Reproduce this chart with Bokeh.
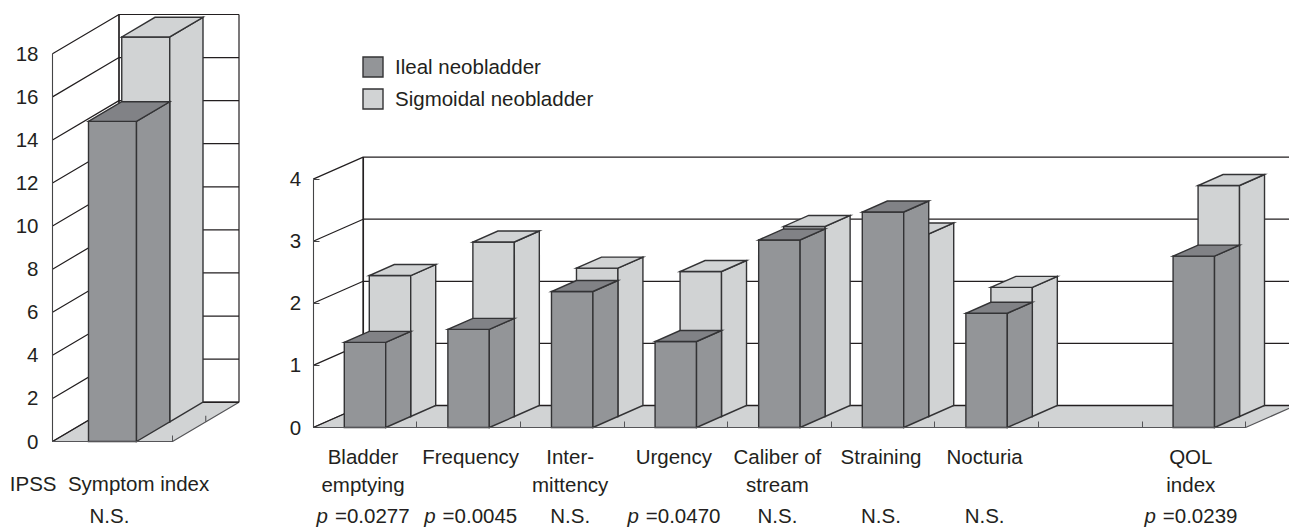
from bokeh.core.properties import value as _v
from bokeh.embed import file_html
from bokeh.layouts import row
from bokeh.models import ColumnDataSource, FixedTicker, Legend, LegendItem, LinearAxis, Range1d
from bokeh.plotting import figure
from bokeh.resources import INLINE

SERIES = ["Ileal neobladder", "Sigmoidal neobladder"]

LEFT_CATEGORY = "IPSS\u00a0\u00a0Symptom index"
LEFT_ILEAL = [14.86]
LEFT_SIGMOID = [17.87]
LEFT_TICKS = [0, 2, 4, 6, 8, 10, 12, 14, 16, 18]
LEFT_P = ["N.S."]

CATEGORIES = ["Bladder\nemptying", "Frequency", "Inter-\nmittency", "Urgency",
              "Caliber of\nstream", "Straining", "Nocturia", "", "QOL\nindex"]
ILEAL = [1.37, 1.58, 2.19, 1.385, 3.02, 3.47, 1.84, None, 2.76]
SIGMOID = [2.27, 2.81, 2.39, 2.335, 3.06, 2.94, 2.08, None, 3.72]
RIGHT_TICKS = [0, 1, 2, 3, 4]
P_VALUES = ["0.0277", "0.0045", "N.S.", "0.0470", "N.S.", "N.S.", "N.S.", "", "0.0239"]

LEFT_LABEL_SHIFT = [-3]
RIGHT_LABEL_SHIFT = [-2, 2, -2, -2, -2, -2, -2, 0, -3]

DARK, DARK_TOP, LIGHT = "#939598", "#818286", "#d1d3d4"
INK, EDGE = "#231f20", "#333335"
FONT = "Liberation Sans"
FS = "20.5px"
P_ROW_MID = 515

PAGE_TOP, PAGE_BOTTOM = 0, 528


def panel(left, right, x0_px, unit_x, zero_px, unit_y, depth_px, depth_py, cats, s1, s2,
          ticks, n_cat, pvals, label_shift, standoff, tick_in, cat_standoff, legend=False, depth_tick=False):
    x_range = Range1d((left - x0_px) / unit_x, (right - x0_px) / unit_x)
    y_range = Range1d((zero_px - PAGE_BOTTOM) / unit_y, (zero_px - PAGE_TOP) / unit_y)
    p = figure(width=right - left, height=PAGE_BOTTOM - PAGE_TOP, x_range=x_range, y_range=y_range,
               output_backend="svg", toolbar_location=None, x_axis_location=None, y_axis_location=None,
               min_border_left=0, min_border_right=0, min_border_top=0, min_border_bottom=0)
    p.outline_line_color = None
    p.grid.visible = False
    dx, dy = depth_px / unit_x, depth_py / unit_y
    top = ticks[-1]

    # floor and walls
    p.patch([0, n_cat, n_cat + dx, dx], [0, 0, dy, dy], fill_color=LIGHT, line_color="#555558", line_width=1.2)
    p.multi_line([[0, dx, n_cat + dx] for t in ticks[1:]],
                 [[t, t + dy, t + dy] for t in ticks[1:]], line_color=INK, line_width=1.2)
    p.line([0, dx], [0, dy], line_color=INK, line_width=1.2)
    p.line([dx, dx], [dy, top + dy], line_color=INK, line_width=1.7)
    p.line([n_cat + dx, n_cat + dx], [dy, top + dy], line_color=INK, line_width=1.2)
    p.line([dx, n_cat + dx], [dy, dy], line_color=INK, line_width=1.4)
    if depth_tick:
        p.segment([n_cat + dx / 2], [dy / 2], [n_cat + dx / 2], [dy / 2 + 6 / unit_y], line_color="#555558", line_width=1.1)

    # bars, back series first
    renderers = []
    for values, z0, fill, topc in ((s2, 0.5, LIGHT, LIGHT), (s1, 0.0, DARK, DARK_TOP)):
        z1 = z0 + 0.5
        xs, ys, cols = [], [], []
        for i, v in enumerate(values):
            if v is None:
                continue
            a, b = i + 0.3, i + 0.7
            xs += [[a + z0 * dx, b + z0 * dx, b + z0 * dx, a + z0 * dx],
                   [b + z0 * dx, b + z1 * dx, b + z1 * dx, b + z0 * dx],
                   [a + z0 * dx, b + z0 * dx, b + z1 * dx, a + z1 * dx]]
            ys += [[z0 * dy, z0 * dy, v + z0 * dy, v + z0 * dy],
                   [z0 * dy, z1 * dy, v + z1 * dy, v + z0 * dy],
                   [v + z0 * dy, v + z0 * dy, v + z1 * dy, v + z1 * dy]]
            cols += [fill, fill, topc]
        src = ColumnDataSource(dict(xs=xs, ys=ys, c=cols))
        renderers.append(p.patches("xs", "ys", source=src, fill_color="c", line_color=EDGE,
                                   line_width=1.4, line_join="miter"))

    # value axis
    yaxis = LinearAxis(ticker=FixedTicker(ticks=ticks), bounds=(0, top), fixed_location=0,
                       major_tick_in=0, major_tick_out=-tick_in, minor_tick_line_color=None,
                       axis_line_color="#444446", axis_line_width=1.1, major_tick_line_color="#444446",
                       major_label_standoff=standoff, major_label_text_font=FONT,
                       major_label_text_font_size=FS, major_label_text_color=INK)
    p.add_layout(yaxis, "left")

    # floor ticks at category boundaries (no labels)
    edges = list(range(1, n_cat + 1))
    bound = LinearAxis(ticker=FixedTicker(ticks=edges), bounds=(0, n_cat), fixed_location=0,
                       major_tick_in=6, major_tick_out=0, minor_tick_line_color=None,
                       axis_line_color="#555558", axis_line_width=1.2, major_tick_line_color="#555558",
                       major_label_overrides={e: "" for e in edges})
    p.add_layout(bound, "below")

    # category labels
    cat_x = [round(i + 0.5 + label_shift[i] / unit_x, 4) for i in range(n_cat)]
    shown = [(x, c) for x, c in zip(cat_x, cats) if c]
    cat_axis = LinearAxis(ticker=FixedTicker(ticks=[x for x, _ in shown]), fixed_location=0, axis_line_color=None,
                          major_tick_line_color=None, minor_tick_line_color=None,
                          major_label_overrides=dict(shown),
                          major_label_standoff=cat_standoff,
                          major_label_text_font=FONT, major_label_text_font_size=FS,
                          major_label_text_color=INK, major_label_text_line_height=1.25)
    p.add_layout(cat_axis, "below")

    # significance row
    base = (zero_px - P_ROW_MID) / unit_y
    plain = [(x, t) for x, t in zip(cat_x, pvals) if t and not t[0].isdigit()]
    nums = [(x, t) for x, t in zip(cat_x, pvals) if t and t[0].isdigit()]
    common = dict(text_baseline="middle", text_font=_v(FONT), text_font_size=FS, text_color=INK)
    p.text([x for x, _ in plain], [base] * len(plain), text=[t for _, t in plain], text_align="center", **common)
    if nums:
        p.text([x for x, _ in nums], [base] * len(nums), text=["p"] * len(nums), text_align="right", x_offset=-35,
               text_font_style="italic", **common)
        p.text([x for x, _ in nums], [base] * len(nums), text=["=" + t for _, t in nums], text_align="left",
               x_offset=-28, **common)

    if legend:
        items = [LegendItem(label=SERIES[0], renderers=[renderers[1]], index=0),
                 LegendItem(label=SERIES[1], renderers=[renderers[0]], index=0)]
        lg = Legend(items=items, location=(360 - left, PAGE_BOTTOM - 111), orientation="vertical",
                    glyph_width=25, glyph_height=25, label_height=25, label_standoff=10, spacing=7,
                    padding=0, margin=0, border_line_color=None, background_fill_alpha=0,
                    label_text_font=FONT, label_text_font_size=FS, label_text_color=INK)
        p.add_layout(lg, "center")
    return p


left = panel(0, 270, 52, 120, 441, 21.54, 66.5, 39.3, [LEFT_CATEGORY], LEFT_ILEAL, LEFT_SIGMOID,
             LEFT_TICKS, 1, LEFT_P, LEFT_LABEL_SHIFT, 14, 0, 24, depth_tick=True)
right = panel(270, 1289, 312.7, 103.6, 427, 62.1, 50, 22, CATEGORIES, ILEAL, SIGMOID,
              RIGHT_TICKS, 9, P_VALUES, RIGHT_LABEL_SHIFT, 12, 6, 11, legend=True)

layout = row(left, right)
open("out.html", "w").write(file_html(layout, INLINE))
